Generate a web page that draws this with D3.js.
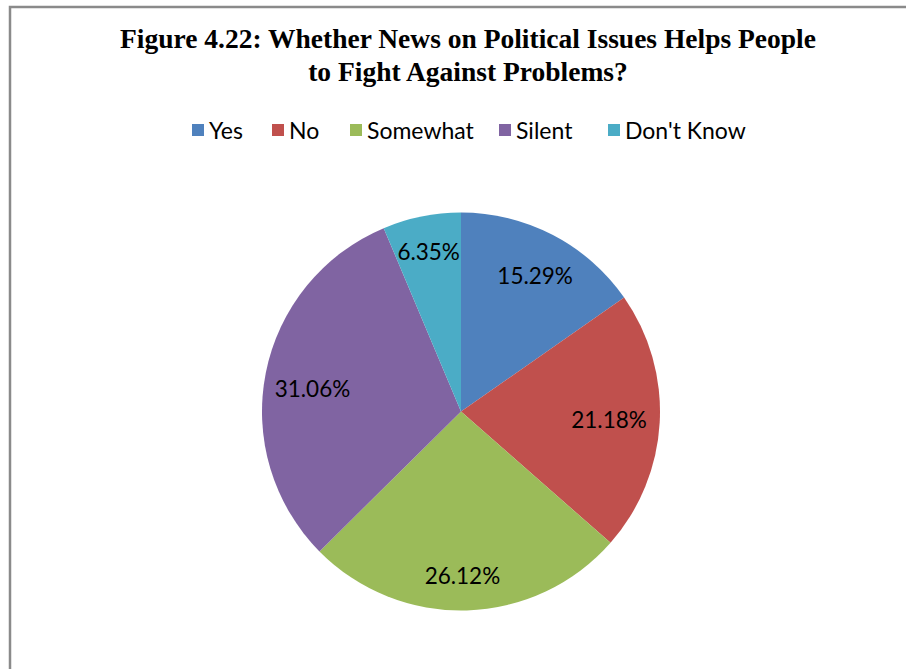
<!DOCTYPE html>
<html><head><meta charset="utf-8">
<script src="https://cdn.jsdelivr.net/npm/d3@7"></script>
<style>body{margin:0;background:#fff}</style>
</head><body>
<svg id="c" width="906" height="669"></svg>
<script>
const categories = ["Yes", "No", "Somewhat", "Silent", "Don't Know"];
const values = [15.29, 21.18, 26.12, 31.06, 6.35];
const colors = ["#4F81BD", "#C0504D", "#9BBB59", "#8064A2", "#4BACC6"];
const titleLines = ["Figure 4.22: Whether News on Political Issues Helps People", "to Fight Against Problems?"];

const svg = d3.select("#c");
svg.append("rect").attr("x", 10).attr("y", 7).attr("width", 1000).attr("height", 1000)
  .attr("fill", "#fff").attr("stroke", "#8a8a8a").attr("stroke-width", 2.5);

svg.selectAll("text.title").data(titleLines).enter().append("text")
  .attr("class", "title")
  .attr("x", 468).attr("y", (d, i) => 48 + i * 33)
  .attr("text-anchor", "middle")
  .attr("font-family", "Liberation Serif, Times New Roman, serif")
  .attr("font-weight", "bold").attr("font-size", 27.5).attr("fill", "#000")
  .text(d => d);

// legend layout
const legendX = [192, 272, 350, 499, 608];
const lg = svg.append("g");
const items = lg.selectAll("g").data(categories).enter().append("g")
  .attr("transform", (d, i) => `translate(${legendX[i]},0)`);
items.append("rect").attr("x", 0).attr("y", 124).attr("width", 12).attr("height", 12)
  .attr("fill", (d, i) => colors[i]);
items.append("text").attr("x", 17).attr("y", 138.5)
  .attr("font-family", "Lato, sans-serif").attr("font-size", 23).attr("fill", "#000")
  .text(d => d);

const cx = 461, cy = 411.5, r = 199;
const pie = d3.pie().sort(null).value(d => d);
const arcs = pie(values);
const arc = d3.arc().innerRadius(0).outerRadius(r);
const g = svg.append("g").attr("transform", `translate(${cx},${cy})`);
g.selectAll("path").data(arcs).enter().append("path")
  .attr("d", arc).attr("fill", (d, i) => colors[i]);
// per-label placement (layout: fraction of radius, angle nudge in degrees)
const labelRadius = [0.775, 0.745, 0.825, 0.755, 0.82];
const labelNudge = [1.2, 0, 1.2, -2.6, 0];
g.selectAll("text").data(arcs).enter().append("text")
  .attr("transform", (d, i) => {
    const lr = r * labelRadius[i];
    const a = (d.startAngle + d.endAngle) / 2 + labelNudge[i] * Math.PI / 180;
    return `translate(${lr * Math.sin(a)},${-lr * Math.cos(a)})`;
  })
  .attr("text-anchor", "middle").attr("dy", "0.36em")
  .attr("font-family", "Lato, sans-serif").attr("font-size", 22.5).attr("fill", "#000")
  .text(d => d.data.toFixed(2) + "%");
</script>
</body></html>
